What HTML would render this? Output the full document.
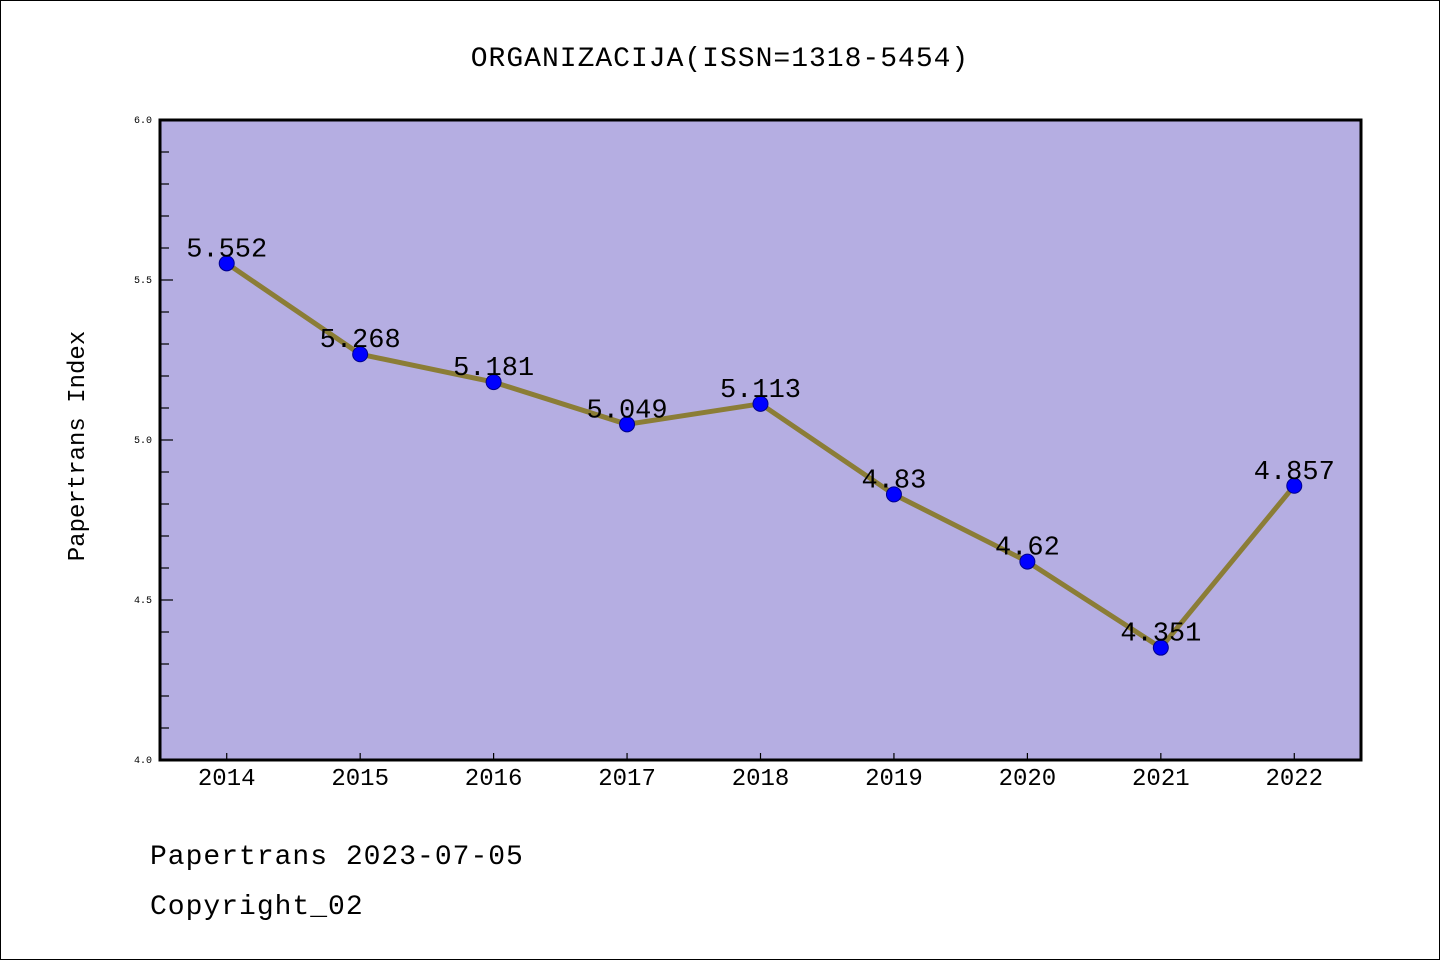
<!DOCTYPE html>
<html><head><meta charset="utf-8"><style>
html,body{margin:0;padding:0;background:#fff}
svg{display:block}
text{font-family:"Liberation Mono",monospace}
</style></head><body>
<svg id="chart" width="1440" height="960" xmlns="http://www.w3.org/2000/svg">
<rect x="0.5" y="0.5" width="1439" height="959" fill="#fff" stroke="#000"/>
<text x="720" y="66" font-size="28" letter-spacing="1" text-anchor="middle">ORGANIZACIJA(ISSN=1318-5454)</text>
<rect x="160" y="120" width="1201" height="640" fill="#b5aee2"/>
<g id="axes"></g>
<g id="series"></g>
<rect x="160" y="120" width="1201" height="640" fill="none" stroke="#000" stroke-width="3"/>
<text transform="translate(84,446) rotate(-90)" font-size="24" text-anchor="middle">Papertrans Index</text>
<text x="150" y="864" font-size="28" letter-spacing="1">Papertrans 2023-07-05</text>
<text x="150" y="914" font-size="28" letter-spacing="1">Copyright_02</text>
</svg>
<script>
const years = [2014,2015,2016,2017,2018,2019,2020,2021,2022];
const values = [5.552,5.268,5.181,5.049,5.113,4.83,4.62,4.351,4.857];
const labels = ["5.552","5.268","5.181","5.049","5.113","4.83","4.62","4.351","4.857"];
const yTicks = ["4.0","4.5","5.0","5.5","6.0"];
const NS="http://www.w3.org/2000/svg";
const X0=160,X1=1361,Y0=760,Y1=120;
const xs=v=>X0+(v-2013.5)/9*(X1-X0);
const ys=v=>Y0-(v-4)/2*(Y0-Y1);
function mk(t,a,p){const e=document.createElementNS(NS,t);for(const k in a)e.setAttribute(k,a[k]);p.appendChild(e);return e;}
const axes=document.getElementById('axes'),ser=document.getElementById('series');
for(let i=0;i<=20;i++){const v=4+i*0.1;const y=ys(v);const major=i%5===0;
const l=mk('line',{x1:X0,x2:X0+(major?13:9),y1:y,y2:y,stroke:'#000','stroke-width':1.2},axes);

}
yTicks.forEach(t=>{const e=mk('text',{x:X0-8,y:ys(parseFloat(t))+3,'font-size':10,'text-anchor':'end'},axes);e.textContent=t;

});
years.forEach(yr=>{const x=xs(yr);
const l=mk('line',{x1:x,x2:x,y1:Y0,y2:Y0-7,stroke:'#000','stroke-width':1.2},axes);


const t=mk('text',{x:x,y:Y0+25,'font-size':24,'text-anchor':'middle'},axes);t.textContent=yr;

});
const pts=years.map((y,i)=>xs(y)+','+ys(values[i])).join(' ');
const pl=mk('polyline',{points:pts,fill:'none',stroke:'#8b7d36','stroke-width':5,'stroke-linejoin':'round'},ser);


years.forEach((y,i)=>{
const c=mk('circle',{cx:xs(y),cy:ys(values[i]),r:7.5,fill:'#0000ff',stroke:'#00008b','stroke-width':1},ser);


const t=mk('text',{x:xs(y),y:ys(values[i])-7,'font-size':27,'text-anchor':'middle'},ser);t.textContent=labels[i];

});
</script>
</body></html>
